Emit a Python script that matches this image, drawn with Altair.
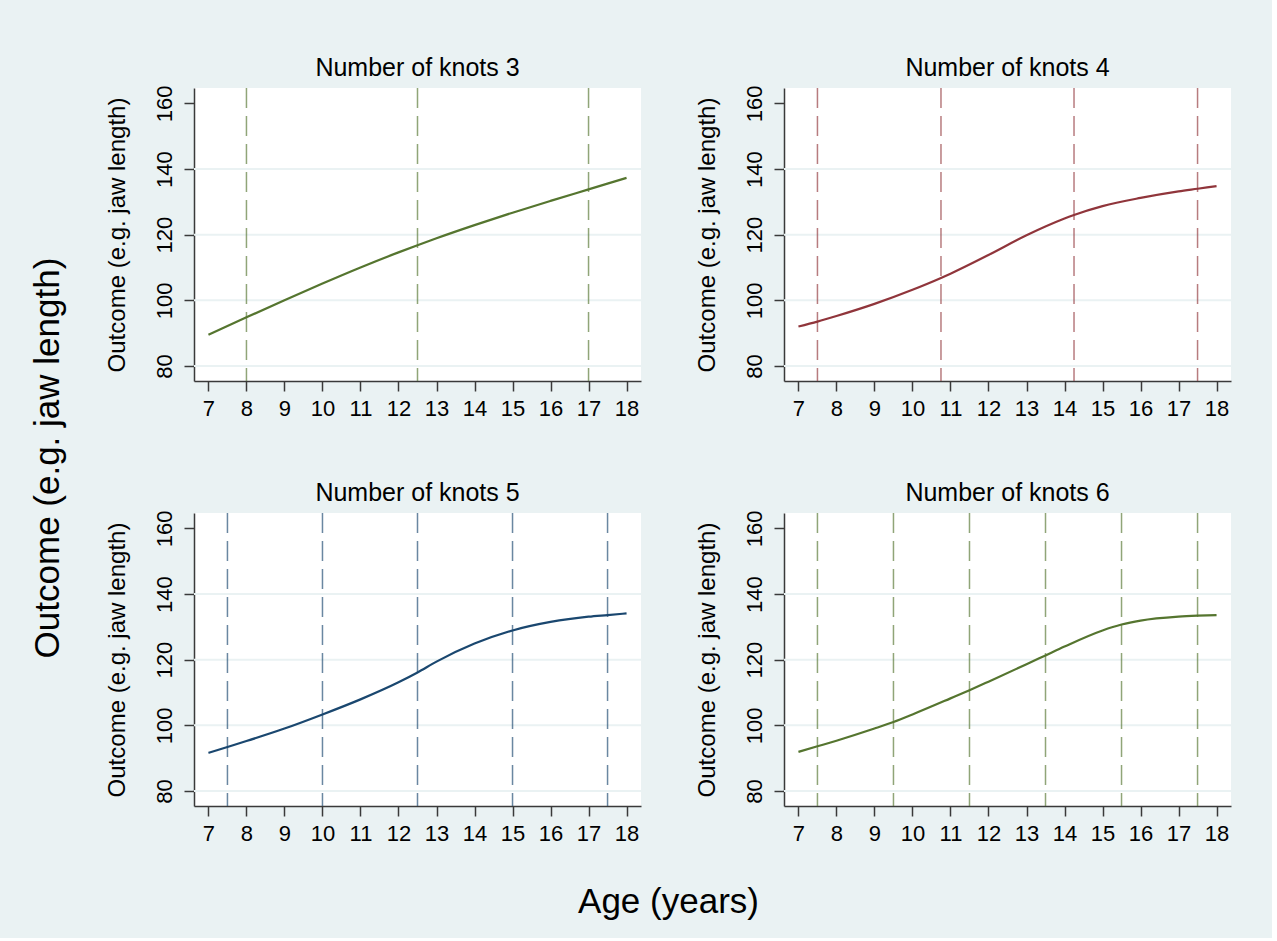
import altair as alt
import pandas as pd

# Fitted spline curves: age (years) and predicted outcome for each knot count
ages_3 = [7, 8, 9, 10, 11, 12, 12.5, 13, 14, 15, 16, 17, 18]
vals_3 = [89.5, 94.8, 100.0, 105.1, 110.0, 114.6, 116.8, 118.9, 122.9, 126.7, 130.3, 133.8, 137.3]

ages_4 = [7, 7.5, 8, 9, 10, 10.75, 11, 12, 13, 14, 14.25, 15, 16, 17, 17.5, 18]
vals_4 = [92.0, 93.5, 95.2, 98.9, 103.2, 106.8, 108.1, 113.8, 119.8, 124.9, 126.0, 128.7, 131.2, 133.2, 134.0, 134.8]

ages_5 = [7, 7.5, 8, 9, 10, 11, 12, 12.5, 13, 14, 15, 16, 17, 17.5, 18]
vals_5 = [91.6, 93.4, 95.2, 99.0, 103.3, 107.9, 113.1, 116.1, 119.4, 124.9, 128.9, 131.5, 133.1, 133.6, 134.1]

ages_6 = [7, 7.5, 8, 9, 9.5, 10, 11, 11.5, 12, 13, 13.5, 14, 15, 15.5, 16, 17, 17.5, 18]
vals_6 = [91.9, 93.6, 95.3, 99.0, 101.0, 103.3, 108.2, 110.7, 113.3, 118.6, 121.3, 124.0, 128.9, 130.7, 131.9, 133.1, 133.4, 133.6]

# Knot locations
knots_3 = [8, 12.5, 17]
knots_4 = [7.5, 10.75, 14.25, 17.5]
knots_5 = [7.5, 10, 12.5, 15, 17.5]
knots_6 = [7.5, 9.5, 11.5, 13.5, 15.5, 17.5]

# Panel titles and colours
panel_titles = ["Number of knots 3", "Number of knots 4", "Number of knots 5", "Number of knots 6"]
line_colors = ["#55752F", "#90353B", "#1A476F", "#55752F"]

# Axis ticks and grid
x_ticks = list(range(7, 19))
y_ticks = [80, 100, 120, 140, 160]
grid_vals = [80, 100, 120, 140]

FONT = "Liberation Sans"
BG = "#EAF2F3"
X_DOMAIN = [6.62, 18.38]
Y_DOMAIN = [75.4, 164.7]

x_scale = alt.Scale(domain=X_DOMAIN, nice=False, zero=False)
y_scale = alt.Scale(domain=Y_DOMAIN, nice=False, zero=False)

x_axis = alt.Axis(
    values=x_ticks, title=None, grid=False, tickSize=10,
    labelFontSize=22, labelPadding=7, labelFlush=False,
)
y_axis = alt.Axis(
    values=y_ticks, title="Outcome (e.g. jaw length)", grid=False,
    tickSize=10, labelFontSize=22, labelAngle=270,
    labelAlign="center", labelBaseline="bottom", labelPadding=8,
    titleFontSize=24, titlePadding=24, titleFontWeight="normal",
)


def panel(ages, vals, knots, title, color):
    curve = pd.DataFrame({"age": ages, "outcome": vals})
    knot_df = pd.DataFrame({"knot": knots})
    grid_df = pd.DataFrame({"g": grid_vals})

    grid = alt.Chart(grid_df).mark_rule(color=BG, strokeWidth=2).encode(
        y=alt.Y("g:Q", scale=y_scale, axis=y_axis)
    )
    knot_lines = alt.Chart(knot_df).mark_rule(
        color=color, strokeWidth=1.5, strokeDash=[20, 8], opacity=0.65
    ).encode(x=alt.X("knot:Q", scale=x_scale, axis=x_axis))

    line = alt.Chart(curve).mark_line(
        color=color, strokeWidth=2.2, interpolate="monotone"
    ).encode(
        x=alt.X("age:Q", scale=x_scale, axis=x_axis),
        y=alt.Y("outcome:Q", scale=y_scale, axis=y_axis),
    )
    return alt.layer(grid, knot_lines, line).properties(
        width=447,
        height=293,
        title=alt.TitleParams(
            title, fontSize=25, fontWeight="normal", frame="group",
            anchor="middle", offset=4, font=FONT, color="black",
        ),
    )


p1 = panel(ages_3, vals_3, knots_3, panel_titles[0], line_colors[0])
p2 = panel(ages_4, vals_4, knots_4, panel_titles[1], line_colors[1])
p3 = panel(ages_5, vals_5, knots_5, panel_titles[2], line_colors[2])
p4 = panel(ages_6, vals_6, knots_6, panel_titles[3], line_colors[3])

rows = alt.vconcat(
    alt.hconcat(p1, p2, spacing=52),
    alt.hconcat(p3, p4, spacing=52),
    spacing=62,
    title=alt.TitleParams(
        "Age (years)", orient="bottom", fontSize=35, fontWeight="normal",
        anchor="middle", offset=41, font=FONT, color="black",
    ),
)

chart = alt.hconcat(
    rows,
    title=alt.TitleParams(
        "Outcome (e.g. jaw length)", orient="left", fontSize=35,
        fontWeight="normal", anchor="middle", offset=39, dx=30,
        font=FONT, color="black",
    ),
).properties(
    padding={"left": 30, "top": 56, "right": 40, "bottom": 18},
).configure(
    background=BG, font=FONT,
).configure_view(
    fill="white", stroke=None,
).configure_axis(
    domainColor="#3a3a3a", domainWidth=1.5, tickColor="#3a3a3a", tickWidth=1.5,
    labelColor="black", titleColor="black", labelFont=FONT, titleFont=FONT,
)

chart.save("out.html", embed_options={"renderer": "svg", "actions": False})
